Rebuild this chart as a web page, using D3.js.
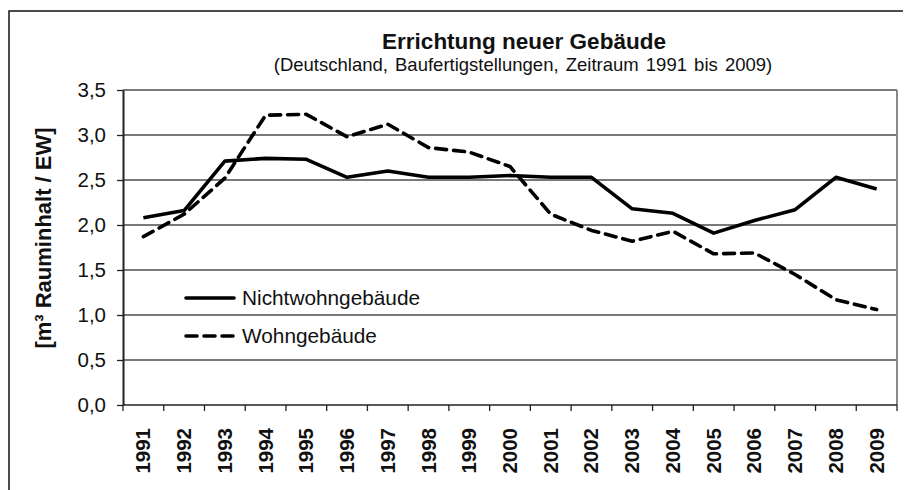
<!DOCTYPE html>
<html>
<head>
<meta charset="utf-8">
<script src="https://cdn.jsdelivr.net/npm/d3@7"></script>
<style>
  body { margin: 0; background: #fff; }
  svg { display: block; font-family: "Liberation Sans", Arial, sans-serif; }
</style>
</head>
<body>
<script>
var years = ["1991","1992","1993","1994","1995","1996","1997","1998","1999","2000",
             "2001","2002","2003","2004","2005","2006","2007","2008","2009"];

// m³ Rauminhalt pro Einwohner
var nichtwohn = [2.08, 2.16, 2.71, 2.74, 2.73, 2.53, 2.60, 2.53, 2.53, 2.55,
                 2.53, 2.53, 2.18, 2.13, 1.91, 2.05, 2.17, 2.53, 2.40];
var wohn = [1.87, 2.12, 2.52, 3.22, 3.23, 2.98, 3.12, 2.86, 2.81, 2.65,
            2.12, 1.94, 1.82, 1.93, 1.68, 1.69, 1.45, 1.17, 1.06];

var yTicks = [0, 0.5, 1.0, 1.5, 2.0, 2.5, 3.0, 3.5];

var seriesNames = ["Nichtwohngebäude", "Wohngebäude"];

var width = 907, height = 490;
var margin = {top: 90, right: 10, bottom: 85, left: 123};

var svg = d3.select("body").append("svg")
  .attr("width", width)
  .attr("height", height);

// outer frame (top + left)
svg.append("path")
  .attr("d", "M9,490 V11 H903")
  .attr("fill", "none")
  .attr("stroke", "#111")
  .attr("stroke-width", 1.5);

var x = d3.scaleBand().domain(years).range([margin.left, width - margin.right]);
var y = d3.scaleLinear().domain([0, 3.5]).range([height - margin.bottom, margin.top]);

var fmt = function(d) { return d3.format(".1f")(d).replace(".", ","); };

// gridlines
svg.append("g").selectAll("line")
  .data(yTicks.filter(function(d) { return d > 0; }))
  .enter().append("line")
    .attr("x1", margin.left)
    .attr("x2", width - margin.right)
    .attr("y1", function(d) { return y(d); })
    .attr("y2", function(d) { return y(d); })
    .attr("stroke", "#4d4d4d")
    .attr("stroke-width", 1.6);

// right border of plot area
svg.append("line")
  .attr("x1", width - margin.right).attr("x2", width - margin.right)
  .attr("y1", y(3.5)).attr("y2", y(0))
  .attr("stroke", "#8a8a8a")
  .attr("stroke-width", 2);

// y axis
var yAxis = d3.axisLeft(y).tickValues(yTicks).tickFormat(fmt).tickSize(6).tickSizeOuter(0).tickPadding(11);
var gy = svg.append("g")
  .attr("transform", "translate(" + margin.left + ",0)")
  .call(yAxis);
gy.select(".domain").attr("stroke", "#222").attr("stroke-width", 2);
gy.selectAll(".tick line").attr("stroke", "#222").attr("stroke-width", 1.3);
gy.selectAll("text")
  .attr("font-size", 20.5)
  .attr("font-family", "Liberation Sans, Arial, sans-serif")
  .attr("fill", "#111");

// x axis line
svg.append("line")
  .attr("x1", margin.left).attr("x2", width - margin.right)
  .attr("y1", y(0)).attr("y2", y(0))
  .attr("stroke", "#222").attr("stroke-width", 1.6);

// x ticks between categories
var bounds = years.map(function(d) { return x(d); }).concat([x(years[years.length - 1]) + x.bandwidth()]);
svg.append("g").selectAll("line")
  .data(bounds)
  .enter().append("line")
    .attr("x1", function(d) { return d; })
    .attr("x2", function(d) { return d; })
    .attr("y1", y(0))
    .attr("y2", y(0) + 6)
    .attr("stroke", "#222")
    .attr("stroke-width", 1.3);

// x labels
svg.append("g").selectAll("text")
  .data(years)
  .enter().append("text")
    .attr("transform", function(d) {
      return "translate(" + (x(d) + x.bandwidth() / 2 + 7) + "," + (y(0) + 23) + ") rotate(-90)";
    })
    .attr("text-anchor", "end")
    .attr("font-size", 20.5)
    .attr("font-weight", "bold")
    .attr("fill", "#111")
    .text(function(d) { return d; });

// lines
var line = function(vals) {
  return d3.line()
    .x(function(d, i) { return x(years[i]) + x.bandwidth() / 2; })
    .y(function(d) { return y(d); })(vals);
};

svg.append("path")
  .attr("d", line(wohn))
  .attr("fill", "none")
  .attr("stroke", "#000")
  .attr("stroke-width", 3.6)
  .attr("stroke-dasharray", "11,7")
  .attr("stroke-linecap", "round")
  .attr("stroke-linejoin", "round");

svg.append("path")
  .attr("d", line(nichtwohn))
  .attr("fill", "none")
  .attr("stroke", "#000")
  .attr("stroke-width", 3.6)
  .attr("stroke-linejoin", "round");

// legend
var legend = svg.append("g");
[0, 1].forEach(function(i) {
  var ly = 298 + i * 38;
  legend.append("line")
    .attr("x1", 186).attr("x2", 234)
    .attr("y1", ly).attr("y2", ly)
    .attr("stroke", "#000")
    .attr("stroke-width", 3.6)
    .attr("stroke-linecap", "round")
    .attr("stroke-dasharray", i === 1 ? "11,7" : null);
  legend.append("text")
    .attr("x", 242)
    .attr("y", ly + 7)
    .attr("font-size", 20.8)
    .attr("fill", "#111")
    .text(seriesNames[i]);
});

// y title
svg.append("text")
  .attr("transform", "translate(51,238) rotate(-90)")
  .attr("text-anchor", "middle")
  .attr("font-size", 22)
  .attr("font-weight", "bold")
  .attr("fill", "#111")
  .text("[m³ Rauminhalt / EW]");

// titles
svg.append("text")
  .attr("x", 524).attr("y", 49)
  .attr("text-anchor", "middle")
  .attr("font-size", 22.5)
  .attr("font-weight", "bold")
  .attr("fill", "#111")
  .text("Errichtung neuer Gebäude");

svg.append("text")
  .attr("x", 523).attr("y", 71)
  .attr("text-anchor", "middle")
  .attr("font-size", 18.5)
  .attr("word-spacing", 2)
  .attr("fill", "#111")
  .text("(Deutschland, Baufertigstellungen, Zeitraum 1991 bis 2009)");
</script>
</body>
</html>
